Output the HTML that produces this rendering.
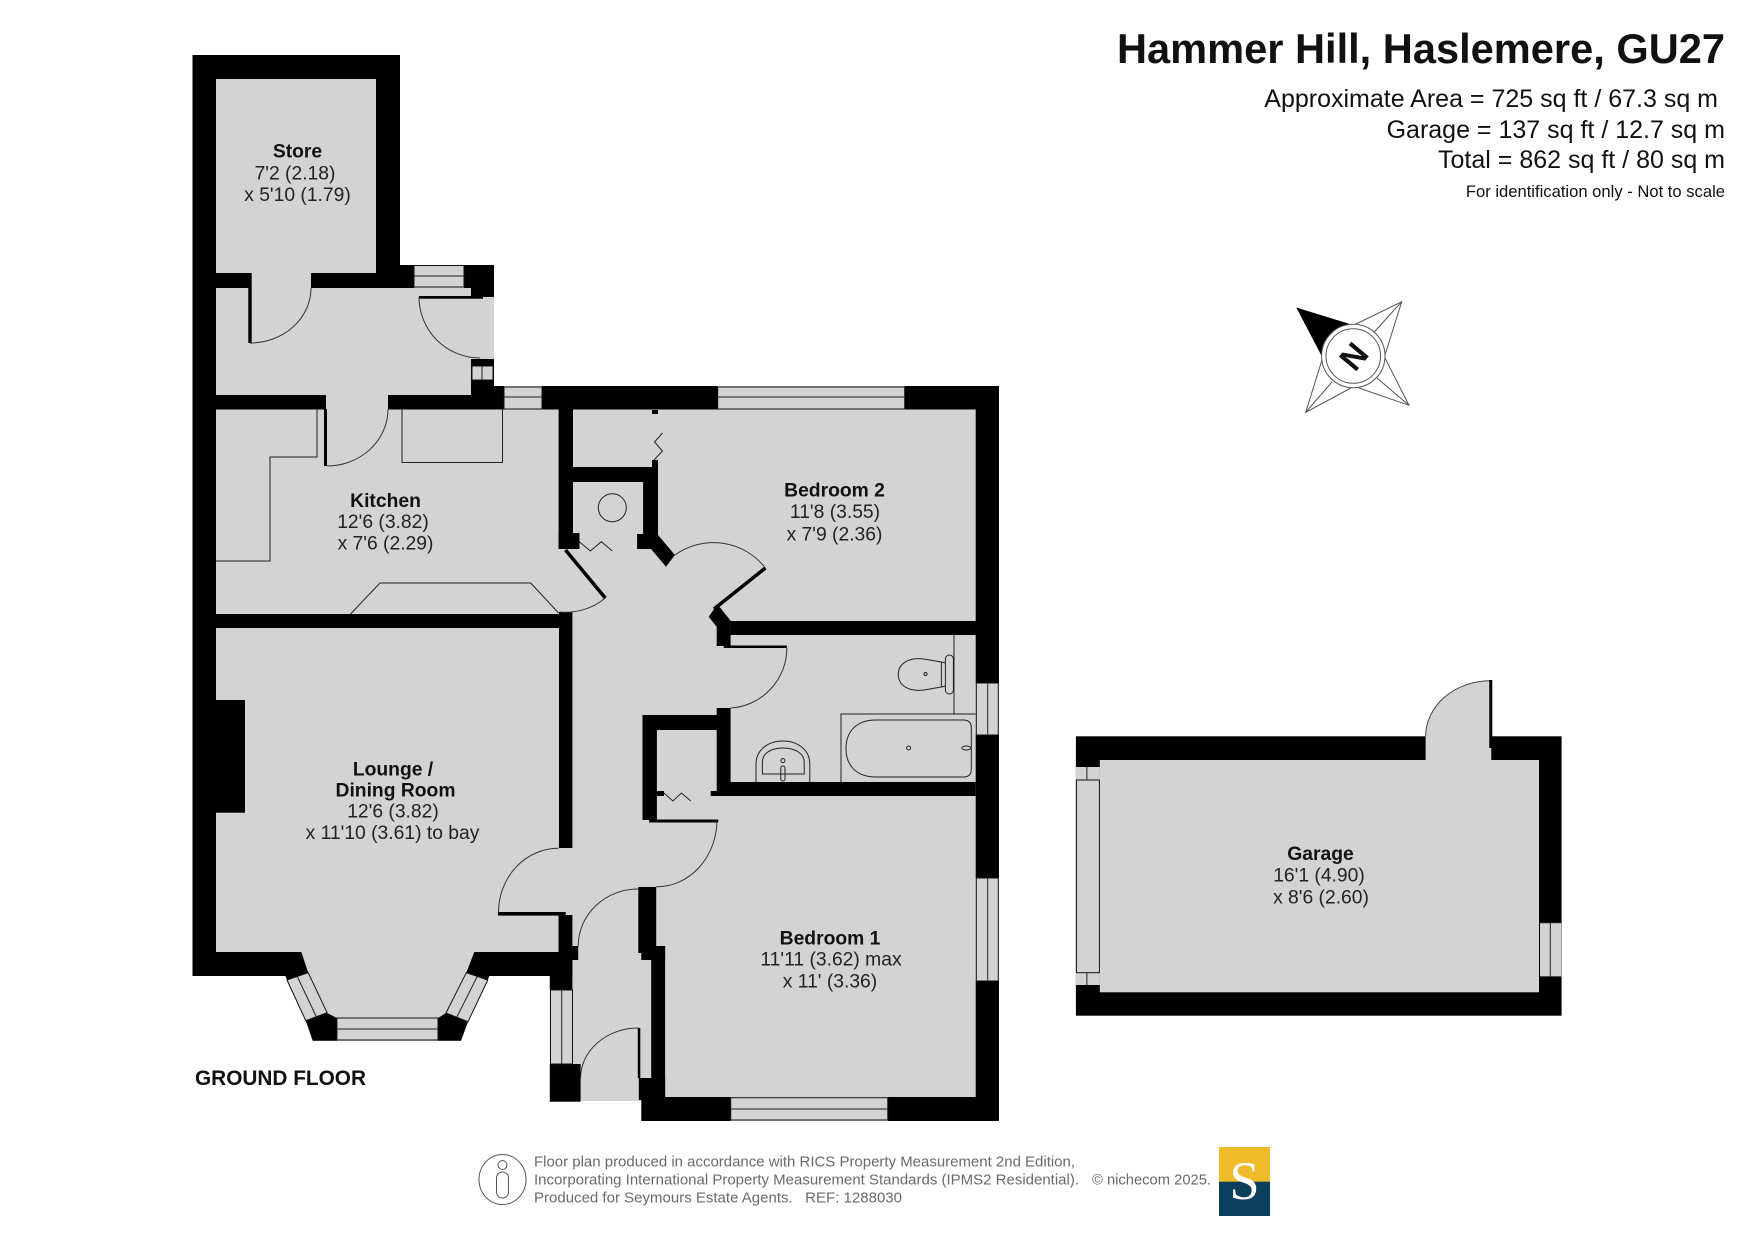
<!DOCTYPE html>
<html>
<head>
<meta charset="utf-8">
<style>
html,body{margin:0;padding:0;background:#fff}
svg{display:block}
text{font-family:"Liberation Sans",sans-serif;fill:#111}
.r{font-size:19.3px;text-anchor:middle;fill:#222}
.b{font-size:19.3px;font-weight:bold;text-anchor:middle}
.f{font-size:15px;fill:#6a6a6a}
.t{font-size:25px;text-anchor:end}
.l{fill:none;stroke:#222;stroke-width:1}
.a{fill:none;stroke:#333;stroke-width:1}
.w{fill:#d3d3d3;stroke:#111;stroke-width:1}
</style>
</head>
<body>
<svg xmlns="http://www.w3.org/2000/svg" width="1755" height="1241" viewBox="0 0 1755 1241">
<rect width="1755" height="1241" fill="#fff"/>

<!-- floor -->
<polygon fill="#d3d3d3" points="192.5,55 400,55 400,265 494,265 494,386 999,386 999,1121 641.3,1121 641.3,1101 549.8,1101 549.8,976 489.2,976 468,1021.7 461,1041 312.7,1041 305.8,1020.7 285.4,976 192.5,976"/>

<!-- walls -->
<g fill="#000">
<rect x="192.5" y="55" width="23.5" height="921"/>
<rect x="192.5" y="55" width="207.5" height="24"/>
<rect x="376" y="55" width="24" height="233"/>
<rect x="216" y="273" width="33" height="15"/>
<rect x="311" y="273" width="103" height="15"/>
<rect x="400" y="265" width="14" height="23"/>
<rect x="464" y="265" width="7" height="23"/>
<rect x="471" y="265" width="23" height="32"/>
<rect x="419" y="296" width="64" height="2.7"/>
<rect x="248.3" y="273" width="3.4" height="70"/>
<rect x="216" y="395" width="110" height="14.5"/>
<rect x="388" y="395" width="83" height="14.5"/>
<rect x="471" y="359" width="23" height="50.5"/>
<rect x="494" y="386" width="10" height="23.5"/>
<rect x="542" y="386" width="175.7" height="23.5"/>
<rect x="904.7" y="386" width="94.3" height="23.5"/>
<rect x="324" y="409" width="3" height="57"/>
<rect x="558.6" y="386" width="14.4" height="163"/>
<rect x="558.6" y="533" width="20.9" height="16"/>
<rect x="559" y="612" width="13.4" height="236"/>
<rect x="216" y="614" width="344" height="14"/>
<rect x="216" y="700" width="29" height="112.7"/>
<rect x="572.5" y="467" width="85.5" height="15"/>
<rect x="643.1" y="482" width="14.9" height="53"/>
<rect x="652" y="460" width="6" height="7"/>
<rect x="652" y="410" width="6" height="4"/>
<rect x="637.1" y="534" width="20.9" height="15"/>
<polygon points="658,535 674.9,555 666,566.7 651,549 651,535"/>
<line x1="565.5" y1="550" x2="605.3" y2="598" stroke="#000" stroke-width="3.5"/>
<line x1="714" y1="609" x2="765.4" y2="568" stroke="#000" stroke-width="3.5"/>
<polygon points="708.7,616.7 714.1,609 719.7,607 730.6,620.7 730.6,646 716.7,646 716.7,626.7"/>
<rect x="730.6" y="621" width="268.4" height="14"/>
<rect x="723.7" y="645.5" width="63.1" height="2.5"/>
<rect x="975.7" y="386" width="23.3" height="297"/>
<rect x="975.7" y="735" width="23.3" height="143"/>
<rect x="975.7" y="981" width="23.3" height="140"/>
<rect x="716.7" y="708" width="13.9" height="88"/>
<rect x="642.5" y="715" width="75" height="15"/>
<rect x="642.5" y="715" width="14.4" height="105"/>
<rect x="717.7" y="782" width="258" height="14"/>
<rect x="656" y="791" width="8" height="5"/>
<rect x="710.7" y="791" width="7" height="5"/>
<rect x="649.1" y="819.5" width="69.2" height="3"/>
<rect x="638.3" y="887" width="17.9" height="66"/>
<rect x="641.3" y="946" width="23.8" height="14"/>
<rect x="651.2" y="946" width="13.9" height="154"/>
<rect x="638.8" y="1078" width="26.3" height="22"/>
<rect x="637.8" y="1028" width="2.5" height="50"/>
<rect x="641.3" y="1097" width="89.4" height="24"/>
<rect x="887.8" y="1097" width="111.2" height="24"/>
<rect x="558.5" y="915" width="13.9" height="61"/>
<rect x="572.4" y="946" width="5.8" height="14"/>
<rect x="549.8" y="975" width="22.6" height="15"/>
<rect x="549.8" y="1064" width="30.8" height="37.7"/>
<rect x="498.1" y="912" width="67.6" height="3.6"/>
<polygon points="192.5,952 301.3,952 308.2,972.7 287,980 285.4,976 192.5,976"/>
<polygon points="474.3,952 466.3,972.7 487.8,980 489.2,976 572.4,976 572.4,952"/>
<polygon points="305.8,1020.7 327.1,1013 336.9,1018 336.9,1040.7 312.7,1040.7"/>
<polygon points="438,1018 446,1013 468,1021.7 461,1040.7 438,1040.7"/>
</g>

<!-- windows -->
<g class="l" fill="none" stroke="#222">
<rect class="w" x="414" y="265.5" width="50" height="21.5"/><line x1="414" y1="276" x2="464" y2="276"/>
<rect class="w" x="472" y="366" width="21" height="14"/><line x1="482" y1="366" x2="482" y2="380"/>
<rect class="w" x="504" y="387" width="38" height="22"/><line x1="504" y1="397" x2="542" y2="397"/>
<rect class="w" x="717.7" y="387" width="187" height="22"/><line x1="717.7" y1="397" x2="904.7" y2="397"/>
<rect class="w" x="976.3" y="683" width="22" height="52"/><line x1="987.7" y1="683" x2="987.7" y2="735"/>
<rect class="w" x="976.3" y="878" width="22" height="103"/><line x1="987.7" y1="878" x2="987.7" y2="981"/>
<rect class="w" x="730.7" y="1097.7" width="157.1" height="22.3"/><line x1="730.7" y1="1109" x2="887.8" y2="1109"/>
<rect class="w" x="550.5" y="990" width="22" height="74"/><line x1="561.7" y1="990" x2="561.7" y2="1064"/>
<rect class="w" x="336.9" y="1018" width="101.1" height="22"/><line x1="336.9" y1="1029" x2="438" y2="1029"/>
<polygon class="w" points="287,980 308.2,972.7 327.1,1012.7 305.8,1020.7"/><line x1="297.3" y1="976.5" x2="316.2" y2="1016.5"/>
<polygon class="w" points="466.3,972.7 487.8,980 468,1021.7 446,1013"/><line x1="477.2" y1="976.5" x2="456.9" y2="1017"/>
</g>

<!-- door arcs -->
<path class="a" d="M311 288A61 55 0 0 1 250 343"/>
<path class="a" d="M419 297A61 61 0 0 0 480 358"/>
<path class="a" d="M388 409A61 57 0 0 1 327 466"/>
<path class="a" d="M605.3 598A62 62 0 0 1 559.6 612"/>
<path class="a" d="M765.4 568A66 66 0 0 0 674.9 555"/>
<path class="a" d="M786.8 648A60 60 0 0 1 730.6 708"/>
<path class="a" d="M717 820A60 67 0 0 1 656.2 886.7"/>
<path class="a" d="M558.5 848.3A60 64 0 0 0 498.5 912"/>
<path class="a" d="M638.8 889A60 57 0 0 0 578.2 946"/>
<path class="a" d="M638.8 1028A58 50 0 0 0 580.6 1078"/>

<!-- fitted -->
<g class="l">
<polyline points="317,409.5 317,457 270,457 270,561 216,561"/>
<polyline points="402,409.5 402,462.5 502.5,462.5 502.5,409.5"/>
<polyline points="350.5,614 380,583 530.7,583 558.6,613"/>
<circle cx="612.3" cy="507.7" r="14"/>
<polyline points="654,460 662.5,451 654.5,442 662.5,433"/>
<polyline points="579.5,542 590.4,551 601.3,541.7 612.3,551"/>
<polyline points="664,793 672.9,801 681.4,793 690.8,801"/>
<!-- bathroom -->
<line x1="954" y1="635" x2="954" y2="714"/>
<polyline points="841,782 841,714 975.7,714"/>
<path d="M875.8 720H963.4Q971.3 720 971.3 728V769Q971.3 777 963.4 777H875.8C856 777 846 765 846 748.5S856 720 875.8 720Z"/>
<circle cx="908.6" cy="748" r="2"/>
<ellipse cx="966.3" cy="748" rx="4.5" ry="2"/>
<path d="M941.4 662L924 659C908 657 898.3 664 898.3 674.5S908 692 924 690L941.4 687Z"/>
<rect x="945.4" y="655" width="8" height="39" rx="4"/>
<line x1="941.4" y1="662" x2="945.4" y2="663"/>
<line x1="941.4" y1="687" x2="945.4" y2="686"/>
<circle cx="925.5" cy="674" r="1.5"/>
<path d="M756 782V764C756 750 768 741 782.9 741S809.8 750 809.8 764V782"/>
<path d="M762.4 774V762C762.4 754 770 748 782.9 748S804.2 754 804.2 762V774Z"/>
<circle cx="782.9" cy="760.6" r="2"/>
<rect x="780.8" y="766" width="4.2" height="15" rx="2"/>
</g>

<!-- garage -->
<path d="M1425.6 736.3A65 56 0 0 1 1490.3 680.7V737H1425.6Z" fill="#d3d3d3" stroke="#444" stroke-width="1"/>
<rect x="1075.9" y="736.3" width="485.7" height="279.4" fill="#000"/>
<rect x="1099.8" y="760" width="439.2" height="232.3" fill="#d3d3d3"/>
<rect x="1425.6" y="736" width="65.7" height="25" fill="#d3d3d3"/>
<rect x="1489.3" y="680" width="3" height="68" fill="#000"/>
<rect x="1075.9" y="767" width="24" height="218" fill="#d3d3d3"/>
<rect x="1076.4" y="780" width="23" height="192.7" class="w"/>
<line x1="1086.9" y1="767" x2="1086.9" y2="780" class="l"/>
<line x1="1086.9" y1="972.7" x2="1086.9" y2="985" class="l"/>
<rect x="1540" y="922.7" width="21.3" height="54" fill="#d3d3d3"/>
<line x1="1550.3" y1="922.7" x2="1550.3" y2="976.7" class="l"/>
<line x1="1540" y1="922.7" x2="1561.3" y2="922.7" class="l"/>
<line x1="1540" y1="976.7" x2="1561.3" y2="976.7" class="l"/>

<!-- labels -->
<text class="b" x="297.5" y="157.5">Store</text>
<text class="r" x="295" y="179.5">7'2 (2.18)</text>
<text class="r" x="297.5" y="201">x 5'10 (1.79)</text>
<text class="b" x="385.5" y="507">Kitchen</text>
<text class="r" x="383" y="528">12'6 (3.82)</text>
<text class="r" x="385.5" y="549.5">x 7'6 (2.29)</text>
<text class="b" x="834.5" y="496.7">Bedroom 2</text>
<text class="r" x="835" y="518">11'8 (3.55)</text>
<text class="r" x="834.5" y="540.5">x 7'9 (2.36)</text>
<text class="b" x="393" y="775.5">Lounge /</text>
<text class="b" x="395.5" y="796.7">Dining Room</text>
<text class="r" x="393" y="817.7">12'6 (3.82)</text>
<text class="r" x="392.5" y="839">x 11'10 (3.61) to bay</text>
<text class="b" x="830" y="944.4">Bedroom 1</text>
<text class="r" x="831" y="965.7">11'11 (3.62) max</text>
<text class="r" x="830" y="987.3">x 11' (3.36)</text>
<text class="b" x="1320.5" y="860">Garage</text>
<text class="r" x="1319" y="881.3">16'1 (4.90)</text>
<text class="r" x="1321" y="903.3">x 8'6 (2.60)</text>
<text x="195" y="1085" font-size="20.8" font-weight="bold">GROUND FLOOR</text>

<!-- header -->
<text x="1725" y="63" font-size="41.6" font-weight="bold" text-anchor="end" fill="#000">Hammer Hill, Haslemere, GU27</text>
<text class="t" x="1718" y="107">Approximate Area = 725 sq ft / 67.3 sq m</text>
<text class="t" x="1725" y="138">Garage = 137 sq ft / 12.7 sq m</text>
<text class="t" x="1725" y="168">Total = 862 sq ft / 80 sq m</text>
<text x="1725" y="197" font-size="16.6" text-anchor="end">For identification only - Not to scale</text>

<!-- compass -->
<g fill="none" stroke="#555" stroke-width="1">
<polygon fill="#000" stroke="#000" points="1297.3,308.3 1348.3,324 1328,338 1321.7,355"/>
<polyline points="1355,324.5 1401.7,301.7 1385,355"/>
<line x1="1401.7" y1="301.7" x2="1374.3" y2="332"/>
<polyline points="1385,358 1409,405.3 1359,388"/>
<line x1="1409" y1="405.3" x2="1377" y2="378"/>
<polyline points="1322,360 1305.7,412.3 1351,388"/>
<line x1="1305.7" y1="412.3" x2="1332" y2="382"/>
<circle cx="1353.3" cy="356" r="31.7" fill="#fff"/>
<circle cx="1353.3" cy="356" r="27.3"/>
</g>
<text x="0" y="0" font-size="33" font-weight="bold" text-anchor="middle" fill="#000" transform="translate(1353.3,356) rotate(-50) translate(0,12)">N</text>

<!-- footer -->
<ellipse cx="502.5" cy="1179.5" rx="23.5" ry="25" fill="none" stroke="#555" stroke-width="1"/>
<circle cx="502.5" cy="1165" r="4.5" fill="none" stroke="#555" stroke-width="1"/>
<rect x="496.5" y="1172" width="12" height="26" rx="6" fill="none" stroke="#555" stroke-width="1"/>
<text class="f" x="534" y="1166.5" textLength="541" lengthAdjust="spacingAndGlyphs">Floor plan produced in accordance with RICS Property Measurement 2nd Edition,</text>
<text class="f" x="534" y="1184.3" textLength="545" lengthAdjust="spacingAndGlyphs">Incorporating International Property Measurement Standards (IPMS2 Residential).</text>
<text class="f" x="534" y="1202.3" textLength="368" lengthAdjust="spacingAndGlyphs">Produced for Seymours Estate Agents.&#160;&#160;&#160;REF: 1288030</text>
<text class="f" x="1092" y="1184.3" textLength="119" lengthAdjust="spacingAndGlyphs">© nichecom 2025.</text>
<rect x="1219" y="1147" width="51" height="35" fill="#f0bb2b"/>
<rect x="1219" y="1181.7" width="51" height="34.3" fill="#0b3f5c"/>
<text x="1244.5" y="1199" font-size="54" text-anchor="middle" style="font-family:'Liberation Serif',serif;fill:#fff">S</text>
</svg>
</body>
</html>
